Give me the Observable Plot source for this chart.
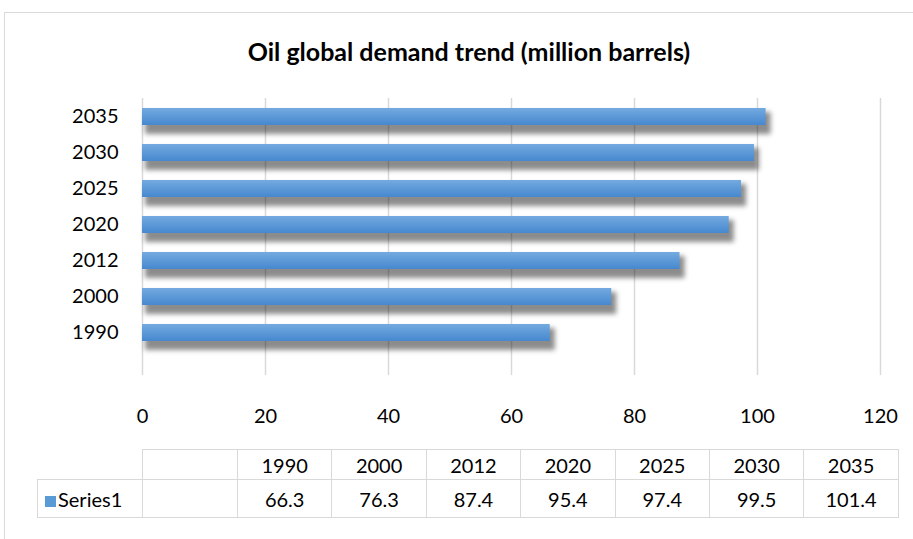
<!DOCTYPE html>
<html>
<head>
<meta charset="utf-8">
<script src="https://cdn.jsdelivr.net/npm/d3@7"></script>
<script src="https://cdn.jsdelivr.net/npm/@observablehq/plot@0.6"></script>
<style>
  html, body { margin: 0; padding: 0; background: #fff; }
  #wrap { position: relative; width: 913px; height: 539px; overflow: hidden; font-family: Lato, "Open Sans", sans-serif; color: #000; }
  #frame { position: absolute; left: 4px; top: 12px; width: 1000px; height: 600px; border-left: 1.5px solid #d9d9d9; border-top: 1.5px solid #d9d9d9; }
  #title { position: absolute; left: 0; width: 938px; top: 36px; text-align: center; font-weight: bold; font-size: 25px; }
  #chart { position: absolute; left: 0; top: 0; }
  #tbl { position: absolute; border-collapse: collapse; font-size: 20px; table-layout: fixed; }
  #tbl td { border: 1.5px solid #d9d9d9; text-align: center; padding: 0; }
  .key { display: inline-block; width: 11px; height: 11px; background: #5b9bd5; margin-right: 2px; vertical-align: 0px; }
</style>
</head>
<body>
<div id="wrap">
  <div id="frame"></div>
  <div id="title">Oil global demand trend (million barrels)</div>
  <div id="chart"></div>
</div>
<script>
const years = ["1990", "2000", "2012", "2020", "2025", "2030", "2035"];
const values = [66.3, 76.3, 87.4, 95.4, 97.4, 99.5, 101.4];
const xTicks = [0, 20, 40, 60, 80, 100, 120];
const seriesName = "Series1";

const data = years.map((y, i) => ({year: y, value: values[i]}));

const plot = Plot.plot({
  width: 913,
  height: 539,
  marginLeft: 142,
  marginRight: 33,
  marginTop: 98,
  marginBottom: 164,
  style: {fontFamily: "Lato, 'Open Sans', sans-serif", fontSize: "20px", color: "#000", background: "transparent"},
  x: {domain: [0, 120], ticks: xTicks, label: null},
  y: {domain: years.slice().reverse(), range: [98, 350], paddingInner: 0.53, paddingOuter: 0.265, label: null},
  marks: [
    Plot.ruleX(xTicks, {stroke: "#d9d9d9", strokeWidth: 1.5}),
    Plot.barX(data, {x: "value", y: "year", fill: "#000", fillOpacity: 0.45, dx: 3, dy: 4, insetBottom: -5, insetRight: -2}),
    Plot.barX(data, {x: "value", y: "year", fill: "url(#barGrad)"}),
    Plot.axisX(xTicks, {tickSize: 0, tickPadding: 33, label: null, fill: "#000"}),
    Plot.axisY({tickSize: 0, tickPadding: 24, label: null, fill: "#000"})
  ]
});

const svg = d3.select(plot);
const defs = svg.insert("defs", ":first-child");
const g = defs.append("linearGradient").attr("id", "barGrad").attr("x1", 0).attr("y1", 0).attr("x2", 0).attr("y2", 1);
g.append("stop").attr("offset", "0%").attr("stop-color", "#74aae0");
g.append("stop").attr("offset", "100%").attr("stop-color", "#4688cf");
defs.append("filter").attr("id", "blur").attr("x", "-10%").attr("y", "-80%").attr("width", "120%").attr("height", "260%")
  .append("feGaussianBlur").attr("stdDeviation", 2.5);
// the first bar group is the shadow layer
const barGroups = svg.selectAll('g[aria-label="bar"]').nodes();
if (barGroups.length) d3.select(barGroups[0]).attr("filter", "url(#blur)");

document.getElementById("chart").appendChild(plot);

// data table built from the same arrays
const tbl = document.createElement("table");
tbl.id = "tbl";
tbl.style.left = "37px";
tbl.style.top = "449px";
tbl.style.width = "861px";
const colWidths = [105, 95].concat(years.map(() => 94.4));
const cg = document.createElement("colgroup");
colWidths.forEach(w => { const c = document.createElement("col"); c.style.width = w + "px"; cg.appendChild(c); });
tbl.appendChild(cg);
const r1 = tbl.insertRow();
r1.style.height = "30px";
const blank0 = r1.insertCell(); blank0.style.border = "none"; blank0.style.borderBottom = "1.5px solid #d9d9d9";
r1.insertCell();
years.forEach(y => { const c = r1.insertCell(); c.textContent = y; });
const r2 = tbl.insertRow();
r2.style.height = "38px";
const nameCell = r2.insertCell();
nameCell.innerHTML = '<span class="key"></span>' + seriesName;
nameCell.style.textAlign = "left";
nameCell.style.paddingLeft = "7px";
r2.insertCell();
values.forEach(v => { const c = r2.insertCell(); c.textContent = v.toFixed(1); });
document.getElementById("wrap").appendChild(tbl);
</script>
</body>
</html>
